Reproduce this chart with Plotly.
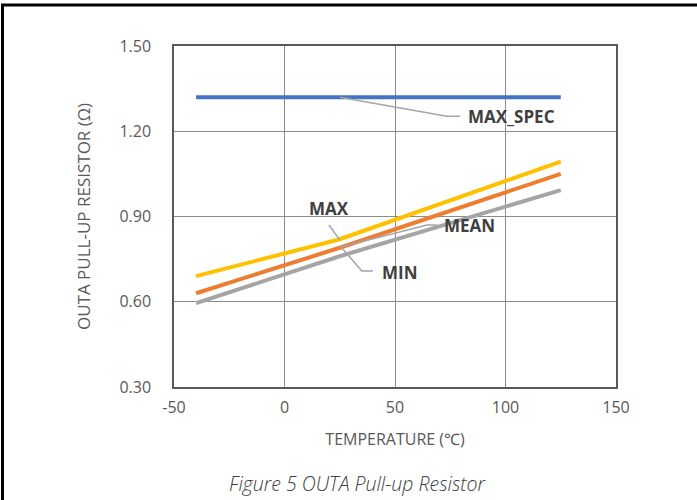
import plotly.graph_objects as go

temps = [-40, 25, 125]
max_spec = [1.32, 1.32, 1.32]
max_vals = [0.69, 0.82, 1.093]
mean_vals = [0.63, 0.79, 1.05]
min_vals = [0.595, 0.76, 0.993]

x_ticks = [-50, 0, 50, 100, 150]
y_ticks = [0.30, 0.60, 0.90, 1.20, 1.50]
y_tick_labels = ["0.30", "0.60", "0.90", "1.20", "1.50"]

W, H = 697, 500
L, R, T, B = 174, 81, 46, 113
PW, PH = W - L - R, H - T - B

def px_x(px):
    return (px - L) / PW

def px_y(py):
    return (H - B - py) / PH

FONT = "Open Sans, Noto Sans, sans-serif"

fig = go.Figure()
series = [
    ("MAX_SPEC", max_spec, "#4472C4"),
    ("MIN", min_vals, "#A5A5A5"),
    ("MEAN", mean_vals, "#ED7D31"),
    ("MAX", max_vals, "#FFC000"),
]
for name, vals, col in series:
    fig.add_trace(go.Scatter(x=temps, y=vals, mode="lines", name=name,
                             line=dict(color=col, width=4), showlegend=False))

label_font = dict(family=FONT, size=17, color="#404040")

leaders = [
    [(25, 1.32), (73.5, 1.253), (79.4, 1.253)],
    [(20.1, 0.870), (25.1, 0.817)],
    [(26, 0.789), (35, 0.708), (40, 0.708)],
    [(25, 0.792), (64.5, 0.870), (69, 0.870)],
]
for pts in leaders:
    fig.add_trace(go.Scatter(x=[p[0] for p in pts], y=[p[1] for p in pts], mode="lines",
                             line=dict(color="#A5A5A5", width=1.5), showlegend=False,
                             hoverinfo="skip"))

labels = [("MAX_SPEC", 82, 1.252, "left"), ("MAX", 20.2, 0.928, "center"),
          ("MIN", 43, 0.703, "left"), ("MEAN", 71.2, 0.870, "left")]
for txt, x, y, anchor in labels:
    fig.add_annotation(x=x, y=y, text="<b>%s</b>" % txt, showarrow=False,
                       xanchor=anchor, yanchor="middle", font=label_font)

fig.add_annotation(xref="paper", yref="paper", x=px_x(357), y=px_y(483),
                   text="<i>Figure 5 OUTA Pull-up Resistor</i>", showarrow=False,
                   xanchor="center", yanchor="middle",
                   font=dict(family=FONT, size=19.5, color="#404040", weight=300))

# outer frame (open on the right and bottom)
fig.add_shape(type="rect", xref="paper", yref="paper",
              x0=px_x(2.5), x1=px_x(720), y0=px_y(520), y1=px_y(5),
              line=dict(color="black", width=3), fillcolor="rgba(0,0,0,0)", layer="below")

axis_common = dict(showgrid=True, gridcolor="#8C8C8C", gridwidth=1, zeroline=False,
                   showline=True, linecolor="#595959", linewidth=1.5, mirror=True,
                   ticks="", tickfont=dict(family=FONT, size=16, color="#595959"))
fig.update_layout(
    width=W, height=H, margin=dict(l=L, r=R, t=T, b=B, autoexpand=False),
    paper_bgcolor="white", plot_bgcolor="white",
    xaxis=dict(range=[-50, 150], tickvals=x_ticks, ticktext=[str(v) for v in x_ticks],
               ticklabelstandoff=5,
               title=dict(text="TEMPERATURE (℃)", standoff=17,
                          font=dict(family=FONT, size=16, color="#595959")),
               **axis_common),
    yaxis=dict(range=[0.30, 1.50], tickvals=y_ticks, ticktext=y_tick_labels,
               ticklabelstandoff=18,
               title=dict(text="OUTA PULL-UP RESISTOR (Ω)", standoff=24,
                          font=dict(family=FONT, size=17, color="#595959")),
               **axis_common),
)
fig.write_html("out.html", config={"displayModeBar": False})

with open("out.html", "r", encoding="utf-8") as f:
    html = f.read()
html = html.replace("<head>", "<head><style>html,body{margin:0;padding:0;overflow:hidden;}</style>", 1)
with open("out.html", "w", encoding="utf-8") as f:
    f.write(html)
